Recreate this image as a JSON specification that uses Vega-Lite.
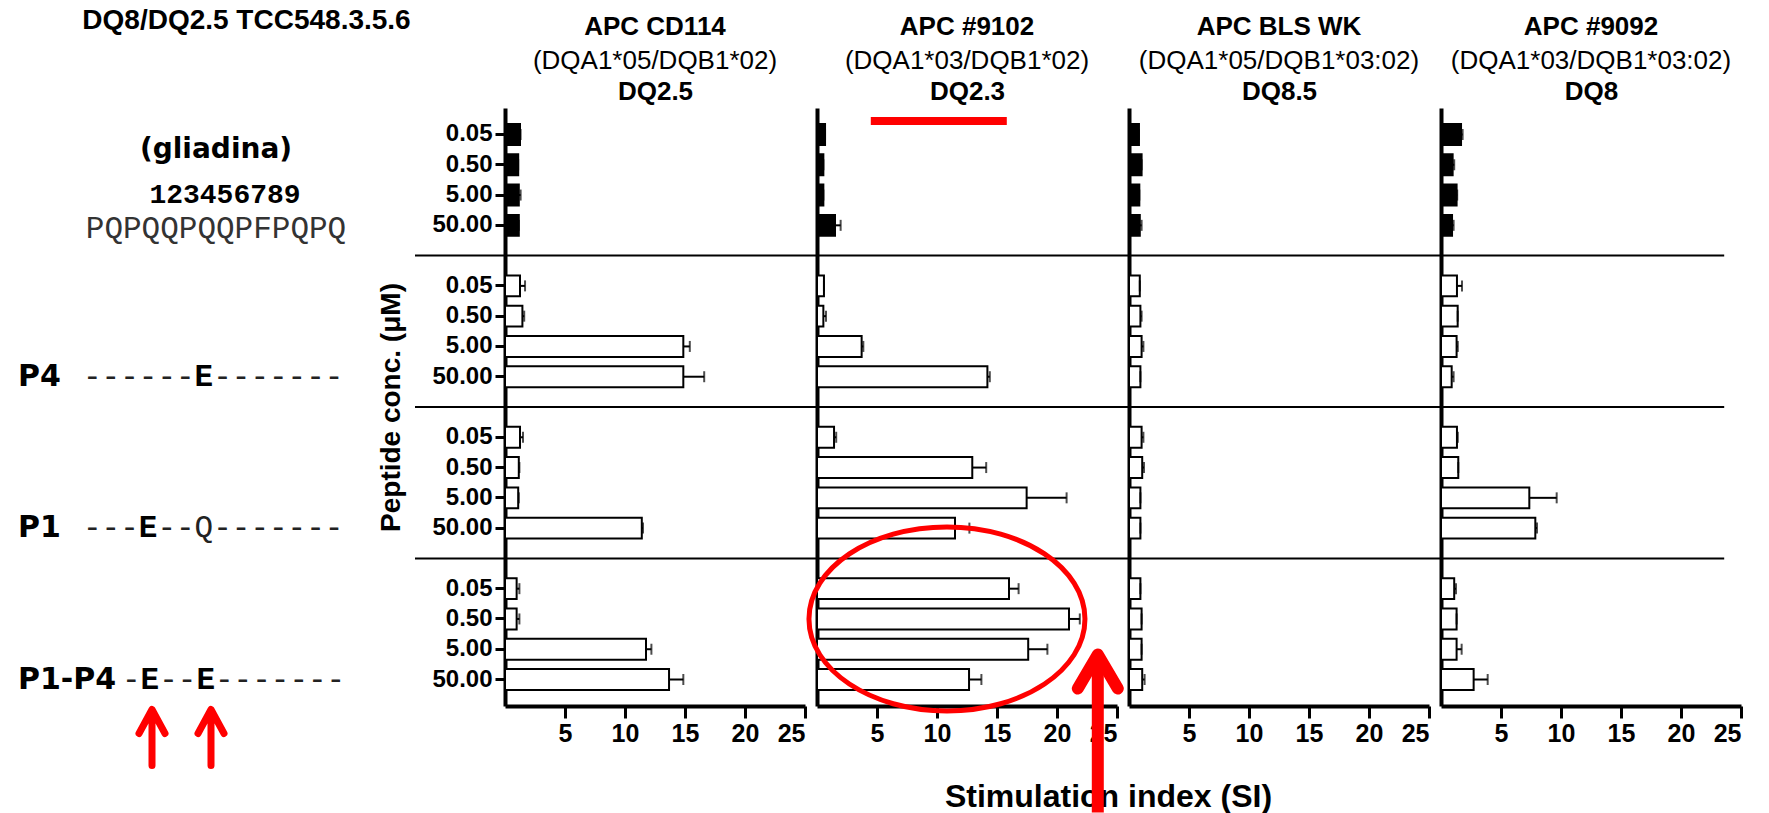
{
"$schema":"https://vega.github.io/schema/vega-lite/v6.json",
"padding":{"top":7,"left":0,"right":0,"bottom":0},
"bounds":"flush",
"spacing":12,
"resolve":{"scale":{"x":"independent","y":"independent"}},
"datasets":{"bars":[
{"apc":"CD114","peptide":"gliadin","conc":"0.05","row":"gliadin|0.05","si":1.25,"hi":1.3},
{"apc":"CD114","peptide":"gliadin","conc":"0.50","row":"gliadin|0.50","si":1.1,"hi":1.1},
{"apc":"CD114","peptide":"gliadin","conc":"5.00","row":"gliadin|5.00","si":1.15,"hi":1.3},
{"apc":"CD114","peptide":"gliadin","conc":"50.00","row":"gliadin|50.00","si":1.15,"hi":1.15},
{"apc":"CD114","peptide":"P4","conc":"0.05","row":"P4|0.05","si":1.25,"hi":1.67},
{"apc":"CD114","peptide":"P4","conc":"0.50","row":"P4|0.50","si":1.45,"hi":1.6},
{"apc":"CD114","peptide":"P4","conc":"5.00","row":"P4|5.00","si":14.86,"hi":15.4},
{"apc":"CD114","peptide":"P4","conc":"50.00","row":"P4|50.00","si":14.86,"hi":16.6},
{"apc":"CD114","peptide":"P1","conc":"0.05","row":"P1|0.05","si":1.25,"hi":1.5},
{"apc":"CD114","peptide":"P1","conc":"0.50","row":"P1|0.50","si":1.15,"hi":1.2},
{"apc":"CD114","peptide":"P1","conc":"5.00","row":"P1|5.00","si":1.1,"hi":1.15},
{"apc":"CD114","peptide":"P1","conc":"50.00","row":"P1|50.00","si":11.4,"hi":11.5},
{"apc":"CD114","peptide":"P1-P4","conc":"0.05","row":"P1-P4|0.05","si":0.97,"hi":1.2},
{"apc":"CD114","peptide":"P1-P4","conc":"0.50","row":"P1-P4|0.50","si":0.97,"hi":1.2},
{"apc":"CD114","peptide":"P1-P4","conc":"5.00","row":"P1-P4|5.00","si":11.75,"hi":12.2},
{"apc":"CD114","peptide":"P1-P4","conc":"50.00","row":"P1-P4|50.00","si":13.67,"hi":14.86},
{"apc":"#9102","peptide":"gliadin","conc":"0.05","row":"gliadin|0.05","si":0.67,"hi":0.67},
{"apc":"#9102","peptide":"gliadin","conc":"0.50","row":"gliadin|0.50","si":0.53,"hi":0.53},
{"apc":"#9102","peptide":"gliadin","conc":"5.00","row":"gliadin|5.00","si":0.53,"hi":0.53},
{"apc":"#9102","peptide":"gliadin","conc":"50.00","row":"gliadin|50.00","si":1.5,"hi":1.97},
{"apc":"#9102","peptide":"P4","conc":"0.05","row":"P4|0.05","si":0.58,"hi":0.58},
{"apc":"#9102","peptide":"P4","conc":"0.50","row":"P4|0.50","si":0.53,"hi":0.75},
{"apc":"#9102","peptide":"P4","conc":"5.00","row":"P4|5.00","si":3.72,"hi":3.86},
{"apc":"#9102","peptide":"P4","conc":"50.00","row":"P4|50.00","si":14.2,"hi":14.4},
{"apc":"#9102","peptide":"P1","conc":"0.05","row":"P1|0.05","si":1.42,"hi":1.6},
{"apc":"#9102","peptide":"P1","conc":"0.50","row":"P1|0.50","si":12.94,"hi":14.1},
{"apc":"#9102","peptide":"P1","conc":"5.00","row":"P1|5.00","si":17.47,"hi":20.8},
{"apc":"#9102","peptide":"P1","conc":"50.00","row":"P1|50.00","si":11.5,"hi":12.7},
{"apc":"#9102","peptide":"P1-P4","conc":"0.05","row":"P1-P4|0.05","si":16.0,"hi":16.8},
{"apc":"#9102","peptide":"P1-P4","conc":"0.50","row":"P1-P4|0.50","si":21.0,"hi":21.9},
{"apc":"#9102","peptide":"P1-P4","conc":"5.00","row":"P1-P4|5.00","si":17.6,"hi":19.2},
{"apc":"#9102","peptide":"P1-P4","conc":"50.00","row":"P1-P4|50.00","si":12.67,"hi":13.7},
{"apc":"BLS WK","peptide":"gliadin","conc":"0.05","row":"gliadin|0.05","si":0.83,"hi":0.83},
{"apc":"BLS WK","peptide":"gliadin","conc":"0.50","row":"gliadin|0.50","si":1.05,"hi":1.05},
{"apc":"BLS WK","peptide":"gliadin","conc":"5.00","row":"gliadin|5.00","si":0.86,"hi":0.86},
{"apc":"BLS WK","peptide":"gliadin","conc":"50.00","row":"gliadin|50.00","si":0.9,"hi":1.05},
{"apc":"BLS WK","peptide":"P4","conc":"0.05","row":"P4|0.05","si":0.9,"hi":0.9},
{"apc":"BLS WK","peptide":"P4","conc":"0.50","row":"P4|0.50","si":0.95,"hi":1.05},
{"apc":"BLS WK","peptide":"P4","conc":"5.00","row":"P4|5.00","si":1.05,"hi":1.2},
{"apc":"BLS WK","peptide":"P4","conc":"50.00","row":"P4|50.00","si":0.95,"hi":0.95},
{"apc":"BLS WK","peptide":"P1","conc":"0.05","row":"P1|0.05","si":1.05,"hi":1.2},
{"apc":"BLS WK","peptide":"P1","conc":"0.50","row":"P1|0.50","si":1.1,"hi":1.25},
{"apc":"BLS WK","peptide":"P1","conc":"5.00","row":"P1|5.00","si":0.95,"hi":0.95},
{"apc":"BLS WK","peptide":"P1","conc":"50.00","row":"P1|50.00","si":0.95,"hi":0.95},
{"apc":"BLS WK","peptide":"P1-P4","conc":"0.05","row":"P1-P4|0.05","si":0.95,"hi":0.95},
{"apc":"BLS WK","peptide":"P1-P4","conc":"0.50","row":"P1-P4|0.50","si":1.05,"hi":1.05},
{"apc":"BLS WK","peptide":"P1-P4","conc":"5.00","row":"P1-P4|5.00","si":1.05,"hi":1.05},
{"apc":"BLS WK","peptide":"P1-P4","conc":"50.00","row":"P1-P4|50.00","si":1.1,"hi":1.3},
{"apc":"#9092","peptide":"gliadin","conc":"0.05","row":"gliadin|0.05","si":1.67,"hi":1.8},
{"apc":"#9092","peptide":"gliadin","conc":"0.50","row":"gliadin|0.50","si":0.97,"hi":1.1},
{"apc":"#9092","peptide":"gliadin","conc":"5.00","row":"gliadin|5.00","si":1.3,"hi":1.35},
{"apc":"#9092","peptide":"gliadin","conc":"50.00","row":"gliadin|50.00","si":0.92,"hi":1.05},
{"apc":"#9092","peptide":"P4","conc":"0.05","row":"P4|0.05","si":1.33,"hi":1.75},
{"apc":"#9092","peptide":"P4","conc":"0.50","row":"P4|0.50","si":1.39,"hi":1.39},
{"apc":"#9092","peptide":"P4","conc":"5.00","row":"P4|5.00","si":1.3,"hi":1.4},
{"apc":"#9092","peptide":"P4","conc":"50.00","row":"P4|50.00","si":0.89,"hi":1.05},
{"apc":"#9092","peptide":"P1","conc":"0.05","row":"P1|0.05","si":1.33,"hi":1.4},
{"apc":"#9092","peptide":"P1","conc":"0.50","row":"P1|0.50","si":1.44,"hi":1.44},
{"apc":"#9092","peptide":"P1","conc":"5.00","row":"P1|5.00","si":7.36,"hi":9.64},
{"apc":"#9092","peptide":"P1","conc":"50.00","row":"P1|50.00","si":7.86,"hi":8.0},
{"apc":"#9092","peptide":"P1-P4","conc":"0.05","row":"P1-P4|0.05","si":1.1,"hi":1.25},
{"apc":"#9092","peptide":"P1-P4","conc":"0.50","row":"P1-P4|0.50","si":1.3,"hi":1.3},
{"apc":"#9092","peptide":"P1-P4","conc":"5.00","row":"P1-P4|5.00","si":1.3,"hi":1.72},
{"apc":"#9092","peptide":"P1-P4","conc":"50.00","row":"P1-P4|50.00","si":2.72,"hi":3.89}
]},
"hconcat":[
{
"width":493,"height":598,
"title":{"text":"DQ8/DQ2.5 TCC548.3.5.6","offset":73,"fontSize":28},
"layer":[
{"data":{"values":[{"t":"(gliadina)"}]},"mark":{"type":"text","font":"DejaVu Sans","fontWeight":"bold","fontSize":28,"dy":-15,"align":"center","baseline":"middle","color":"black"},
"encoding":{"text":{"field":"t"},"x":{"datum":216,"type":"quantitative","scale":{"domain":[0,493],"nice":false,"zero":false},"axis":null},
"y":{"datum":"gliadin|0.50","type":"nominal","scale":{"type":"band","domain":["gliadin|0.05","gliadin|0.50","gliadin|5.00","gliadin|50.00","sep1","P4|0.05","P4|0.50","P4|5.00","P4|50.00","sep2","P1|0.05","P1|0.50","P1|5.00","P1|50.00","sep3","P1-P4|0.05","P1-P4|0.50","P1-P4|5.00","P1-P4|50.00"],"paddingInner":0.31,"paddingOuter":0.53},"axis":null}}},
{"data":{"values":[{"t":"123456789"}]},"mark":{"type":"text","font":"Liberation Mono","fontWeight":"bold","fontSize":28,"dy":0,"align":"center","baseline":"middle","color":"black"},
"encoding":{"text":{"field":"t"},"x":{"datum":225,"type":"quantitative","axis":null},"y":{"datum":"gliadin|5.00","type":"nominal","axis":null}}},
{"data":{"values":[{"t":"PQPQQPQQPFPQPQ"}]},"mark":{"type":"text","font":"Liberation Mono","fontSize":31,"dy":4,"align":"center","baseline":"middle","color":"#333333"},
"encoding":{"text":{"field":"t"},"x":{"datum":216,"type":"quantitative","axis":null},"y":{"datum":"gliadin|50.00","type":"nominal","axis":null}}},
{"data":{"values":[{"t":"P4","row":"P4|50.00"},{"t":"P1","row":"P1|50.00"},{"t":"P1-P4","row":"P1-P4|50.00"}]},"mark":{"type":"text","font":"DejaVu Sans","fontWeight":"bold","fontSize":30,"align":"left","baseline":"middle","color":"black"},
"encoding":{"text":{"field":"t"},"x":{"datum":18,"type":"quantitative","axis":null},"y":{"field":"row","type":"nominal","axis":null}}},
{"data":{"values":[{"t":"------","row":"P4|50.00"},{"t":"---","row":"P1|50.00"}]},"mark":{"type":"text","font":"Liberation Mono","fontSize":31,"align":"left","baseline":"middle","color":"#222222"},
"encoding":{"text":{"field":"t"},"x":{"datum":83,"type":"quantitative","axis":null},"y":{"field":"row","type":"nominal","axis":null}}},
{"data":{"values":[{"t":"E","row":"P4|50.00"}]},"mark":{"type":"text","font":"Liberation Mono","fontWeight":"bold","fontSize":31,"align":"left","baseline":"middle","color":"black"},
"encoding":{"text":{"field":"t"},"x":{"datum":194.6,"type":"quantitative","axis":null},"y":{"field":"row","type":"nominal","axis":null}}},
{"data":{"values":[{"t":"-------","row":"P4|50.00"}]},"mark":{"type":"text","font":"Liberation Mono","fontSize":31,"align":"left","baseline":"middle","color":"#222222"},
"encoding":{"text":{"field":"t"},"x":{"datum":213.2,"type":"quantitative","axis":null},"y":{"field":"row","type":"nominal","axis":null}}},
{"data":{"values":[{"t":"E","row":"P1|50.00"}]},"mark":{"type":"text","font":"Liberation Mono","fontWeight":"bold","fontSize":31,"align":"left","baseline":"middle","color":"black"},
"encoding":{"text":{"field":"t"},"x":{"datum":138.8,"type":"quantitative","axis":null},"y":{"field":"row","type":"nominal","axis":null}}},
{"data":{"values":[{"t":"--Q-------","row":"P1|50.00"}]},"mark":{"type":"text","font":"Liberation Mono","fontSize":31,"align":"left","baseline":"middle","color":"#222222"},
"encoding":{"text":{"field":"t"},"x":{"datum":157.4,"type":"quantitative","axis":null},"y":{"field":"row","type":"nominal","axis":null}}},
{"data":{"values":[{"t":"-","row":"P1-P4|50.00"}]},"mark":{"type":"text","font":"Liberation Mono","fontSize":31,"align":"left","baseline":"middle","color":"#222222"},
"encoding":{"text":{"field":"t"},"x":{"datum":122,"type":"quantitative","axis":null},"y":{"field":"row","type":"nominal","axis":null}}},
{"data":{"values":[{"t":"E","row":"P1-P4|50.00"}]},"mark":{"type":"text","font":"Liberation Mono","fontWeight":"bold","fontSize":31,"align":"left","baseline":"middle","color":"black"},
"encoding":{"text":{"field":"t"},"x":{"datum":140.6,"type":"quantitative","axis":null},"y":{"field":"row","type":"nominal","axis":null}}},
{"data":{"values":[{"t":"--","row":"P1-P4|50.00"}]},"mark":{"type":"text","font":"Liberation Mono","fontSize":31,"align":"left","baseline":"middle","color":"#222222"},
"encoding":{"text":{"field":"t"},"x":{"datum":159.2,"type":"quantitative","axis":null},"y":{"field":"row","type":"nominal","axis":null}}},
{"data":{"values":[{"t":"E","row":"P1-P4|50.00"}]},"mark":{"type":"text","font":"Liberation Mono","fontWeight":"bold","fontSize":31,"align":"left","baseline":"middle","color":"black"},
"encoding":{"text":{"field":"t"},"x":{"datum":196.4,"type":"quantitative","axis":null},"y":{"field":"row","type":"nominal","axis":null}}},
{"data":{"values":[{"t":"-------","row":"P1-P4|50.00"}]},"mark":{"type":"text","font":"Liberation Mono","fontSize":31,"align":"left","baseline":"middle","color":"#222222"},
"encoding":{"text":{"field":"t"},"x":{"datum":215,"type":"quantitative","axis":null},"y":{"field":"row","type":"nominal","axis":null}}},
{"data":{"values":[{"n":1}]},"mark":{"type":"point","shape":"M 0 0.86 L 0 0.33 M -0.13 0.54 L 0 0.3 L 0.13 0.54","size":40000,"filled":false,"stroke":"red","strokeWidth":7,"strokeCap":"round","strokeJoin":"round","opacity":1},
"encoding":{"x":{"datum":152,"type":"quantitative","axis":null},"y":{"datum":"P1-P4|50.00","type":"nominal","axis":null}}},
{"data":{"values":[{"n":1}]},"mark":{"type":"point","shape":"M 0 0.86 L 0 0.33 M -0.13 0.54 L 0 0.3 L 0.13 0.54","size":40000,"filled":false,"stroke":"red","strokeWidth":7,"strokeCap":"round","strokeJoin":"round","opacity":1},
"encoding":{"x":{"datum":211,"type":"quantitative","axis":null},"y":{"datum":"P1-P4|50.00","type":"nominal","axis":null}}}
]
},
{
"width":300,"height":598,
"title":{"text":"APC CD114","subtitle":"(DQA1*05/DQB1*02)"},
"layer":[
{"data":{"name":"bars"},"transform":[{"filter":"datum.apc === 'CD114'"}],"mark":{"type":"bar","stroke":"black","strokeWidth":2},
"encoding":{
"y":{"field":"row","type":"nominal","scale":{"type":"band","domain":["gliadin|0.05","gliadin|0.50","gliadin|5.00","gliadin|50.00","sep1","P4|0.05","P4|0.50","P4|5.00","P4|50.00","sep2","P1|0.05","P1|0.50","P1|5.00","P1|50.00","sep3","P1-P4|0.05","P1-P4|0.50","P1-P4|5.00","P1-P4|50.00"],"paddingInner":0.31,"paddingOuter":0.53},
"axis":{"values":["gliadin|0.05","gliadin|0.50","gliadin|5.00","gliadin|50.00","P4|0.05","P4|0.50","P4|5.00","P4|50.00","P1|0.05","P1|0.50","P1|5.00","P1|50.00","P1-P4|0.05","P1-P4|0.50","P1-P4|5.00","P1-P4|50.00"],"labelExpr":"split(datum.value,'|')[1]","title":"Peptide conc. (μM)","domainWidth":4,"tickSize":10,"tickWidth":3,"labelFontSize":24,"labelFontWeight":"bold","labelPadding":3,"titleFontSize":28,"titleFontWeight":"bold","titlePadding":26}},
"x":{"field":"si","type":"quantitative","scale":{"domain":[0,25],"nice":false,"zero":false},"axis":{"orient":"bottom","values":[5,10,15,20,25],"title":null,"domainWidth":4,"tickSize":12,"tickWidth":3,"labelFontSize":25,"labelFontWeight":"bold","labelPadding":3}},
"color":{"field":"peptide","type":"nominal","scale":{"domain":["gliadin","P4","P1","P1-P4"],"range":["black","white","white","white"]},"legend":null}}},
{"data":{"name":"bars"},"transform":[{"filter":"datum.apc === 'CD114'"}],"mark":{"type":"rule","color":"black","strokeWidth":2},
"encoding":{"y":{"field":"row","type":"nominal"},"x":{"field":"si","type":"quantitative","axis":null},"x2":{"field":"hi"}}},
{"data":{"name":"bars"},"transform":[{"filter":"datum.apc === 'CD114'"}],"mark":{"type":"tick","color":"black","thickness":2,"size":11},
"encoding":{"y":{"field":"row","type":"nominal"},"x":{"field":"hi","type":"quantitative","axis":null}}},
{"data":{"values":[{"sep":"sep1"},{"sep":"sep2"},{"sep":"sep3"}]},"mark":{"type":"rule","color":"black","strokeWidth":2},
"encoding":{"y":{"field":"sep","type":"nominal"},"x":{"datum":-7.5,"type":"quantitative","axis":{"orient":"top","title":"DQ2.5","labels":false,"ticks":false,"domain":false,"titleFontSize":26,"titleFontWeight":"bold","titlePadding":4,"minExtent":0,"maxExtent":0}},"x2":{"datum":26}}}
]
},
{
"width":300,"height":598,
"title":{"text":"APC #9102","subtitle":"(DQA1*03/DQB1*02)"},
"layer":[
{"data":{"name":"bars"},"transform":[{"filter":"datum.apc === '#9102'"}],"mark":{"type":"bar","stroke":"black","strokeWidth":2},
"encoding":{
"y":{"field":"row","type":"nominal","scale":{"type":"band","domain":["gliadin|0.05","gliadin|0.50","gliadin|5.00","gliadin|50.00","sep1","P4|0.05","P4|0.50","P4|5.00","P4|50.00","sep2","P1|0.05","P1|0.50","P1|5.00","P1|50.00","sep3","P1-P4|0.05","P1-P4|0.50","P1-P4|5.00","P1-P4|50.00"],"paddingInner":0.31,"paddingOuter":0.53},
"axis":{"labels":false,"ticks":false,"title":null,"domainWidth":4}},
"x":{"field":"si","type":"quantitative","scale":{"domain":[0,25],"nice":false,"zero":false},"axis":{"orient":"bottom","values":[5,10,15,20,25],"title":"Stimulation index (SI)","titleX":291,"titleY":100,"titleBaseline":"alphabetic","titleAlign":"center","titleFontSize":32,"titleFontWeight":"bold","domainWidth":4,"tickSize":12,"tickWidth":3,"labelFontSize":25,"labelFontWeight":"bold","labelPadding":3}},
"color":{"field":"peptide","type":"nominal","scale":{"domain":["gliadin","P4","P1","P1-P4"],"range":["black","white","white","white"]},"legend":null}}},
{"data":{"name":"bars"},"transform":[{"filter":"datum.apc === '#9102'"}],"mark":{"type":"rule","color":"black","strokeWidth":2},
"encoding":{"y":{"field":"row","type":"nominal"},"x":{"field":"si","type":"quantitative","axis":null},"x2":{"field":"hi"}}},
{"data":{"name":"bars"},"transform":[{"filter":"datum.apc === '#9102'"}],"mark":{"type":"tick","color":"black","thickness":2,"size":11},
"encoding":{"y":{"field":"row","type":"nominal"},"x":{"field":"hi","type":"quantitative","axis":null}}},
{"data":{"values":[{"sep":"sep1"},{"sep":"sep2"},{"sep":"sep3"}]},"mark":{"type":"rule","color":"black","strokeWidth":2},
"encoding":{"y":{"field":"sep","type":"nominal"},"x":{"datum":0,"type":"quantitative","axis":{"orient":"top","title":"DQ2.3","labels":false,"ticks":false,"domain":false,"titleFontSize":26,"titleFontWeight":"bold","titlePadding":4,"minExtent":0,"maxExtent":0}},"x2":{"datum":26}}},
{"data":{"values":[{"n":1}]},"mark":{"type":"point","shape":"M -0.68 -0.175 L 0.68 -0.175 L 0.68 -0.095 L -0.68 -0.095 Z","size":40000,"filled":true,"fill":"red","strokeWidth":0,"opacity":1},
"encoding":{"x":{"datum":10.15,"type":"quantitative","axis":null},"y":{"datum":"gliadin|0.05","type":"nominal"}}},
{"data":{"values":[{"n":1}]},"mark":{"type":"point","shape":"M -1.38 0 A 1.38 0.92 0 1 0 1.38 0 A 1.38 0.92 0 1 0 -1.38 0 Z","size":40000,"filled":false,"stroke":"red","strokeWidth":5,"opacity":1},
"encoding":{"x":{"datum":10.83,"type":"quantitative","axis":null},"y":{"datum":"P1-P4|0.50","type":"nominal"}}},
{"data":{"values":[{"n":1}]},"mark":{"type":"point","shape":"M 0 -0.2 L 0 1.33","size":40000,"filled":false,"stroke":"red","strokeWidth":12,"strokeCap":"butt","opacity":1},
"encoding":{"x":{"datum":23.4,"type":"quantitative","axis":null},"y":{"datum":"P1-P4|50.00","type":"nominal"}}},
{"data":{"values":[{"n":1}]},"mark":{"type":"point","shape":"M -0.2 0.09 L 0 -0.25 L 0.2 0.09","size":40000,"filled":false,"stroke":"red","strokeWidth":12,"strokeCap":"round","strokeJoin":"round","opacity":1},
"encoding":{"x":{"datum":23.4,"type":"quantitative","axis":null},"y":{"datum":"P1-P4|50.00","type":"nominal"}}}
]
},
{
"width":300,"height":598,
"title":{"text":"APC BLS WK","subtitle":"(DQA1*05/DQB1*03:02)"},
"layer":[
{"data":{"name":"bars"},"transform":[{"filter":"datum.apc === 'BLS WK'"}],"mark":{"type":"bar","stroke":"black","strokeWidth":2},
"encoding":{
"y":{"field":"row","type":"nominal","scale":{"type":"band","domain":["gliadin|0.05","gliadin|0.50","gliadin|5.00","gliadin|50.00","sep1","P4|0.05","P4|0.50","P4|5.00","P4|50.00","sep2","P1|0.05","P1|0.50","P1|5.00","P1|50.00","sep3","P1-P4|0.05","P1-P4|0.50","P1-P4|5.00","P1-P4|50.00"],"paddingInner":0.31,"paddingOuter":0.53},
"axis":{"labels":false,"ticks":false,"title":null,"domainWidth":4}},
"x":{"field":"si","type":"quantitative","scale":{"domain":[0,25],"nice":false,"zero":false},"axis":{"orient":"bottom","values":[5,10,15,20,25],"title":null,"domainWidth":4,"tickSize":12,"tickWidth":3,"labelFontSize":25,"labelFontWeight":"bold","labelPadding":3}},
"color":{"field":"peptide","type":"nominal","scale":{"domain":["gliadin","P4","P1","P1-P4"],"range":["black","white","white","white"]},"legend":null}}},
{"data":{"name":"bars"},"transform":[{"filter":"datum.apc === 'BLS WK'"}],"mark":{"type":"rule","color":"black","strokeWidth":2},
"encoding":{"y":{"field":"row","type":"nominal"},"x":{"field":"si","type":"quantitative","axis":null},"x2":{"field":"hi"}}},
{"data":{"name":"bars"},"transform":[{"filter":"datum.apc === 'BLS WK'"}],"mark":{"type":"tick","color":"black","thickness":2,"size":11},
"encoding":{"y":{"field":"row","type":"nominal"},"x":{"field":"hi","type":"quantitative","axis":null}}},
{"data":{"values":[{"sep":"sep1"},{"sep":"sep2"},{"sep":"sep3"}]},"mark":{"type":"rule","color":"black","strokeWidth":2},
"encoding":{"y":{"field":"sep","type":"nominal"},"x":{"datum":0,"type":"quantitative","axis":{"orient":"top","title":"DQ8.5","labels":false,"ticks":false,"domain":false,"titleFontSize":26,"titleFontWeight":"bold","titlePadding":4,"minExtent":0,"maxExtent":0}},"x2":{"datum":26}}}
]
},
{
"width":300,"height":598,
"title":{"text":"APC #9092","subtitle":"(DQA1*03/DQB1*03:02)"},
"layer":[
{"data":{"name":"bars"},"transform":[{"filter":"datum.apc === '#9092'"}],"mark":{"type":"bar","stroke":"black","strokeWidth":2},
"encoding":{
"y":{"field":"row","type":"nominal","scale":{"type":"band","domain":["gliadin|0.05","gliadin|0.50","gliadin|5.00","gliadin|50.00","sep1","P4|0.05","P4|0.50","P4|5.00","P4|50.00","sep2","P1|0.05","P1|0.50","P1|5.00","P1|50.00","sep3","P1-P4|0.05","P1-P4|0.50","P1-P4|5.00","P1-P4|50.00"],"paddingInner":0.31,"paddingOuter":0.53},
"axis":{"labels":false,"ticks":false,"title":null,"domainWidth":4}},
"x":{"field":"si","type":"quantitative","scale":{"domain":[0,25],"nice":false,"zero":false},"axis":{"orient":"bottom","values":[5,10,15,20,25],"title":null,"domainWidth":4,"tickSize":12,"tickWidth":3,"labelFontSize":25,"labelFontWeight":"bold","labelPadding":3}},
"color":{"field":"peptide","type":"nominal","scale":{"domain":["gliadin","P4","P1","P1-P4"],"range":["black","white","white","white"]},"legend":null}}},
{"data":{"name":"bars"},"transform":[{"filter":"datum.apc === '#9092'"}],"mark":{"type":"rule","color":"black","strokeWidth":2},
"encoding":{"y":{"field":"row","type":"nominal"},"x":{"field":"si","type":"quantitative","axis":null},"x2":{"field":"hi"}}},
{"data":{"name":"bars"},"transform":[{"filter":"datum.apc === '#9092'"}],"mark":{"type":"tick","color":"black","thickness":2,"size":11},
"encoding":{"y":{"field":"row","type":"nominal"},"x":{"field":"hi","type":"quantitative","axis":null}}},
{"data":{"values":[{"sep":"sep1"},{"sep":"sep2"},{"sep":"sep3"}]},"mark":{"type":"rule","color":"black","strokeWidth":2},
"encoding":{"y":{"field":"sep","type":"nominal"},"x":{"datum":0,"type":"quantitative","axis":{"orient":"top","title":"DQ8","labels":false,"ticks":false,"domain":false,"titleFontSize":26,"titleFontWeight":"bold","titlePadding":4,"minExtent":0,"maxExtent":0}},"x2":{"datum":23.6}}}
]
}
],
"config":{
"view":{"stroke":null},
"font":"Liberation Sans",
"axis":{"grid":false,"domainColor":"black","tickColor":"black","labelColor":"black","titleColor":"black","labelFont":"Liberation Sans","titleFont":"Liberation Sans"},
"title":{"font":"Liberation Sans","fontSize":26,"fontWeight":"bold","color":"black","subtitleFont":"Liberation Sans","subtitleFontSize":26,"subtitleFontWeight":"normal","subtitleColor":"black","subtitlePadding":8,"offset":4,"anchor":"middle"}
}
}
